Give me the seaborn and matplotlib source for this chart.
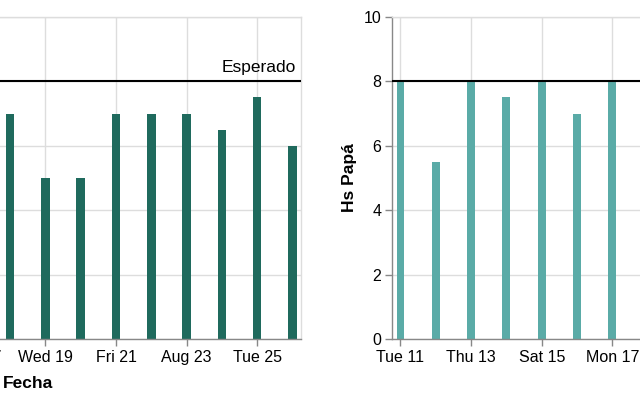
import pandas as pd
import matplotlib
matplotlib.use("Agg")
import matplotlib.pyplot as plt
import seaborn as sns

# Datos (agosto 2020), solo la parte visible de cada panel
dias_izq = [18, 19, 20, 21, 22, 23, 24, 25, 26]
horas_izq = [7, 5, 5, 7, 7, 7, 6.5, 7.5, 6]

dias_der = [11, 12, 13, 14, 15, 16, 17]
horas_der = [8, 5.5, 8, 7.5, 8, 7, 8]

esperado = 8
tick_dias = [11, 13, 15, 17, 19, 21, 23, 25]
tick_labels = ["Tue 11", "Thu 13", "Sat 15", "Mon 17", "Wed 19", "Fri 21", "Aug 23", "Tue 25"]

sns.set_theme(style="white")
plt.rcParams["font.family"] = ["Liberation Sans", "DejaVu Sans"]

W, H = 640, 400
fig = plt.figure(figsize=(6.4, 4.0), dpi=100)

# los dos paneles se salen del cuadro (recorte de una figura más ancha)
ancho = 546
top, bottom = 17, 339
ax_izq = fig.add_axes([(300.7 - ancho) / W, (H - bottom) / H, ancho / W, (bottom - top) / H])
ax_der = fig.add_axes([392.3 / W, (H - bottom) / H, ancho / W, (bottom - top) / H])

df_izq = pd.DataFrame({"Fecha": dias_izq, "Hs": horas_izq})
df_der = pd.DataFrame({"Fecha": dias_der, "Hs": horas_der})

sns.barplot(data=df_izq, x="Fecha", y="Hs", native_scale=True, width=0.24,
            color="#1f6a5d", saturation=1, linewidth=0, ax=ax_izq)
sns.barplot(data=df_der, x="Fecha", y="Hs", native_scale=True, width=0.22,
            color="#5aaba7", saturation=1, linewidth=0, ax=ax_der)

for ax in (ax_izq, ax_der):
    ax.set_xlim(10.77, 26.23)
    ax.set_ylim(0, 10)
    ax.set_xticks(tick_dias)
    ax.set_xticklabels(tick_labels)
    ax.set_yticks([0, 2, 4, 6, 8, 10])
    ax.grid(True, color="#dddddd", linewidth=1)
    ax.set_axisbelow(True)
    ax.axhline(esperado, color="black", linewidth=1.5, zorder=5)
    for s in ["top", "right"]:
        ax.spines[s].set_color("#dddddd")
        ax.spines[s].set_linewidth(1)
    for s in ["left", "bottom"]:
        ax.spines[s].set_color("#888888")
        ax.spines[s].set_linewidth(1)
    ax.tick_params(axis="both", length=5, width=1, color="#888888",
                   labelsize=11.5, labelcolor="black", bottom=True, left=True, pad=3)

# panel izquierdo: su eje y queda fuera del cuadro
ax_izq.set_ylabel("")
ax_izq.set_yticklabels([])
for lab in ax_izq.get_xticklabels()[:3]:
    lab.set_visible(False)
ax_izq.set_xlabel("Fecha", fontsize=12.5, fontweight="bold", labelpad=8, color="black")
ax_izq.text(0.992, esperado + 0.2, "Esperado", transform=ax_izq.get_yaxis_transform(),
            ha="right", va="bottom", fontsize=12.5, color="black")

# panel derecho: su título x y la etiqueta quedan fuera del cuadro
ax_der.set_xlabel("")
for lab in ax_der.get_xticklabels()[4:]:
    lab.set_visible(False)
ax_der.set_ylabel("Hs Papá", fontsize=12.5, fontweight="bold", labelpad=4.5, color="black")

fig.savefig("out.png", dpi=100)
